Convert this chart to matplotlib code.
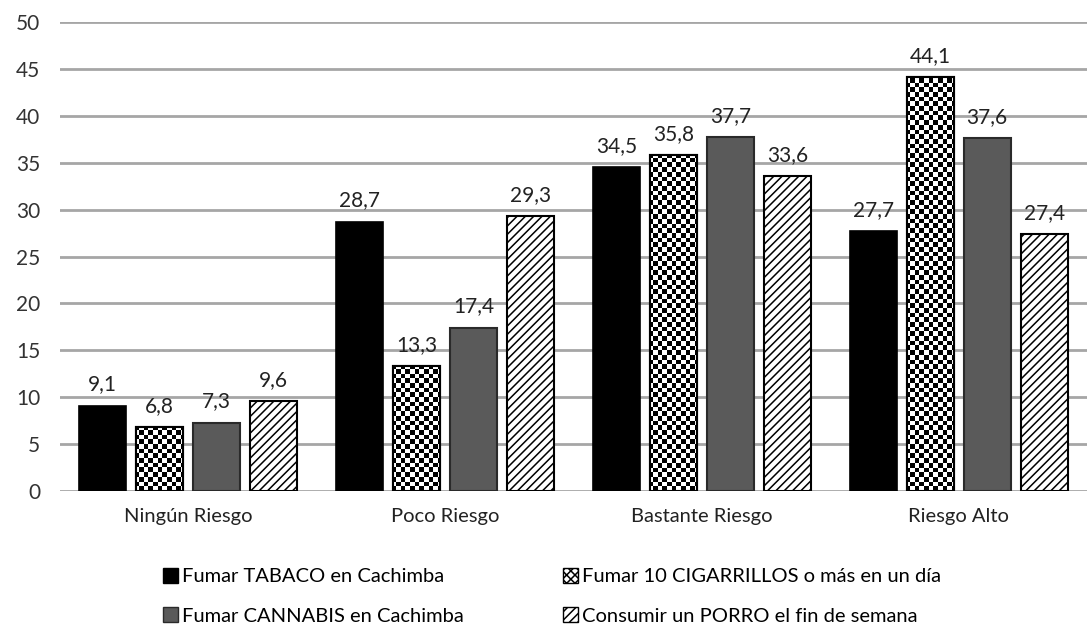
import numpy as np
import matplotlib.pyplot as plt
from matplotlib.patches import Patch

categories = ["Ningún Riesgo", "Poco Riesgo", "Bastante Riesgo", "Riesgo Alto"]
series_names = ["Fumar TABACO en Cachimba", "Fumar 10 CIGARRILLOS o más en un día",
                "Fumar CANNABIS en Cachimba", "Consumir un PORRO el fin de semana"]
tabaco = [9.1, 28.7, 34.5, 27.7]
cigarrillos = [6.8, 13.3, 35.8, 44.1]
cannabis = [7.3, 17.4, 37.7, 37.6]
porro = [9.6, 29.3, 33.6, 27.4]
yticks = list(range(0, 55, 5))

plt.rcParams['font.family'] = ['Lato', 'DejaVu Sans']

fig = plt.figure(figsize=(10.87, 6.3), dpi=100)
ax = fig.add_axes([0.055, 0.2206, 0.945, 0.7444])

x = np.arange(len(categories))
pitch = 0.222
width = 0.183
offsets = [-1.5 * pitch, -0.5 * pitch, 0.5 * pitch, 1.5 * pitch]

ax.set_xlim(-0.5, 3.5)
ax.set_ylim(0, 50)

b1 = ax.bar(x + offsets[0], tabaco, width, color='black', edgecolor='black', linewidth=1.2, zorder=3)
b2 = ax.bar(x + offsets[1], cigarrillos, width, color='white', edgecolor='black', linewidth=1.5, zorder=3)
b3 = ax.bar(x + offsets[2], cannabis, width, color='#5a5a5a', edgecolor='#2a2a2a', linewidth=1.5, zorder=3)
plt.rcParams['hatch.linewidth'] = 1.1
b4 = ax.bar(x + offsets[3], porro, width, color='white', edgecolor='black', hatch='////', linewidth=1.5, zorder=3)

# checkerboard texture clipped to the cigarrillos bars
cols, rows = 220, 100
checker = (np.add.outer(np.arange(rows), np.arange(cols)) % 2).astype(float)
for bar in b2:
    im = ax.imshow(checker, cmap='gray', extent=(-0.5, 3.5, 0, 50), aspect='auto',
                   interpolation='nearest', zorder=3.5, vmin=0, vmax=1)
    im.set_clip_path(bar)
    # outline on top
    ax.bar(bar.get_x() + bar.get_width() / 2, bar.get_height(), width, color='none',
           edgecolor='black', linewidth=1.5, zorder=4)

for bars, vals in [(b1, tabaco), (b2, cigarrillos), (b3, cannabis), (b4, porro)]:
    for bar, v in zip(bars, vals):
        ax.text(bar.get_x() + bar.get_width() / 2, v + 1.2, f"{v:.1f}".replace('.', ','),
                ha='center', va='bottom', fontsize=15, color='#222222')

ax.set_yticks(yticks)
ax.set_xticks(x)
ax.set_xticklabels(categories, fontsize=14.5)
ax.tick_params(axis='y', labelsize=15, length=0, pad=14, labelcolor='#333333')
ax.tick_params(axis='x', length=0, pad=12, labelcolor='#222222')
ax.grid(axis='y', color='#a6a6a6', linewidth=2, zorder=0)
for s in ax.spines.values():
    s.set_visible(False)

handles = [
    Patch(facecolor='black', edgecolor='black'),
    Patch(facecolor='#5a5a5a', edgecolor='#2a2a2a'),
    Patch(facecolor='white', edgecolor='black', hatch='xxxx'),
    Patch(facecolor='white', edgecolor='black', hatch='////'),
]
labels = [series_names[0], series_names[2], series_names[1], series_names[3]]
ax.legend(handles, labels, ncol=2, loc='upper left', bbox_to_anchor=(0.083, -0.125),
          frameon=False, fontsize=14.5, handlelength=0.75, handleheight=0.75,
          handletextpad=0.2, columnspacing=4.9, labelspacing=1.1)

fig.savefig('out.png', dpi=100)
